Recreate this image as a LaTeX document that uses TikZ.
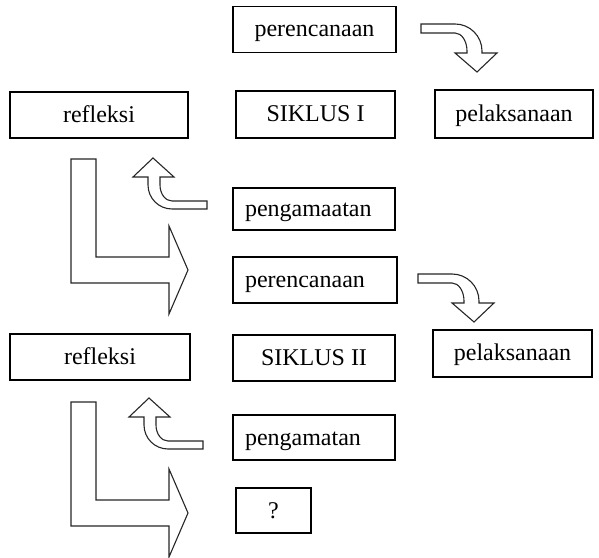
\documentclass[tikz,border=0pt]{standalone}
\usepackage{fontspec}
\setmainfont{Liberation Serif}
\usetikzlibrary{positioning}

\begin{document}
\begin{tikzpicture}[x=1pt, y=1pt,
    box/.style = {draw, line width=1.2pt, inner sep=0pt, minimum height=46,
                  text height=19pt, text depth=4pt,
                  font=\fontsize{24}{28}\selectfont},
    leftbox/.style = {box, align=left, minimum width=#1, text width=#1-24},
    blockarrow/.style = {draw=black!85, line width=1.1pt, fill=white, line join=miter},
    % curved arrow, origin at the centre of the bend
    curvearrow/.pic = {
      \draw[blockarrow] (-34,27) -- (0,27) arc[start angle=90, end angle=0, radius=27]
        -- (27,-2) -- (42,-2) -- (22,-21) -- (0,-2) -- (12,-2) -- (12,0)
        arc[start angle=0, end angle=90, x radius=12, y radius=18] -- (-34,18) -- cycle;
    },
    % small arrow turning up, origin at its tip
    backarrow/.pic = {
      \draw[blockarrow] (0,0) -- (-20,-19) -- (-5,-19) -- (-5,-27)
        arc[start angle=180, end angle=270, radius=24] -- (54,-51) -- (54,-43) -- (19,-43)
        arc[start angle=270, end angle=180, x radius=12, y radius=16] -- (7,-19) -- (21,-19) -- cycle;
    },
    % big L arrow to the next cycle, origin at its tip
    nextarrow/.pic = {
      \draw[blockarrow] (-117,111) -- (-92,111) -- (-92,13) -- (-19,13) -- (-19,44)
        -- (0,0) -- (-19,-44) -- (-19,-13) -- (-117,-13) -- cycle;
    }]
    \useasboundingbox (0,0) rectangle (599,557);

    % siklus I
    \node[box, minimum width=163] (per1)  at (314.5,527.5) {perencanaan};
    \node[box, minimum width=178] (ref1)  at (99,442)      {refleksi};
    \node[box, minimum width=159, minimum height=47] (sik1) at (315.5,442.5) {SIKLUS I};
    \node[box, minimum width=158, minimum height=48] (pel1) at (514,443) {pelaksanaan};
    \node[leftbox=162, minimum height=42] (peng1) at (314,348) {pengamaatan};

    % siklus II
    \node[leftbox=164] (per2)  at (315,277)     {perencanaan};
    \node[box, minimum width=180] (ref2)  at (100,200)     {refleksi};
    \node[box, minimum width=162] (sik2)  at (314,199)     {SIKLUS II};
    \node[box, minimum width=159, minimum height=47] (pel2) at (512.5,203.5) {pelaksanaan};
    \node[leftbox=162, minimum height=45] (peng2) at (314,119.5) {pengamatan};
    \node[box, minimum width=75,  minimum height=45] (next)  at (273.5,46.5) {?};

    \pic at (455,506) {curvearrow};
    \pic at (153,399) {backarrow};
    \pic at (188,287) {nextarrow};

    \pic at (452,256) {curvearrow};
    \pic at (149,159) {backarrow};
    \pic at (188,44)  {nextarrow};
  \end{tikzpicture}
\end{document}
